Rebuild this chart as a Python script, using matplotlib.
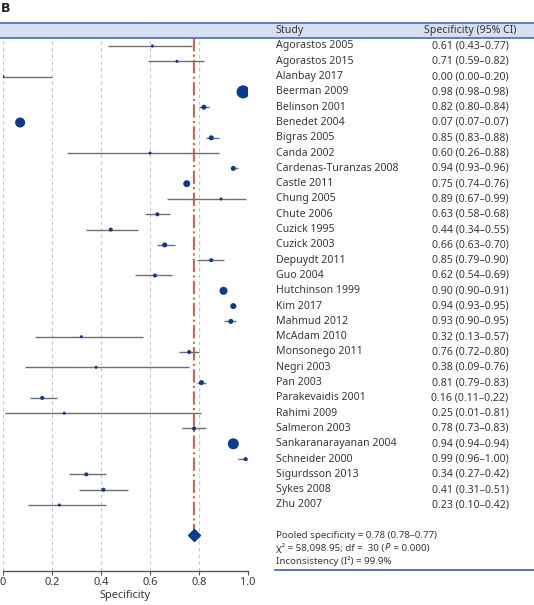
import matplotlib
matplotlib.use("Agg")
import matplotlib.pyplot as plt
import matplotlib.transforms as mtransforms
from matplotlib.patches import Rectangle
from matplotlib.lines import Line2D

studies = ["Agorastos 2005", "Agorastos 2015", "Alanbay 2017", "Beerman 2009", "Belinson 2001",
           "Benedet 2004", "Bigras 2005", "Canda 2002", "Cardenas-Turanzas 2008", "Castle 2011",
           "Chung 2005", "Chute 2006", "Cuzick 1995", "Cuzick 2003", "Depuydt 2011", "Guo 2004",
           "Hutchinson 1999", "Kim 2017", "Mahmud 2012", "McAdam 2010", "Monsonego 2011",
           "Negri 2003", "Pan 2003", "Parakevaidis 2001", "Rahimi 2009", "Salmeron 2003",
           "Sankaranarayanan 2004", "Schneider 2000", "Sigurdsson 2013", "Sykes 2008", "Zhu 2007"]
spec = [0.61, 0.71, 0.00, 0.98, 0.82, 0.07, 0.85, 0.60, 0.94, 0.75, 0.89, 0.63, 0.44, 0.66, 0.85,
        0.62, 0.90, 0.94, 0.93, 0.32, 0.76, 0.38, 0.81, 0.16, 0.25, 0.78, 0.94, 0.99, 0.34, 0.41, 0.23]
lower = [0.43, 0.59, 0.00, 0.98, 0.80, 0.07, 0.83, 0.26, 0.93, 0.74, 0.67, 0.58, 0.34, 0.63, 0.79,
         0.54, 0.90, 0.93, 0.90, 0.13, 0.72, 0.09, 0.79, 0.11, 0.01, 0.73, 0.94, 0.96, 0.27, 0.31, 0.10]
upper = [0.77, 0.82, 0.20, 0.98, 0.84, 0.07, 0.88, 0.88, 0.96, 0.76, 0.99, 0.68, 0.55, 0.70, 0.90,
         0.69, 0.91, 0.95, 0.95, 0.57, 0.80, 0.76, 0.83, 0.22, 0.81, 0.83, 0.94, 1.00, 0.42, 0.51, 0.42]
# relative study weights (drawn as marker area)
weights = [1.0, 1.0, 1.0, 18.8, 2.8, 11.1, 2.8, 1.0, 2.8, 5.4, 1.0, 1.8, 1.8, 2.8, 1.8, 1.8,
           7.1, 4.0, 2.8, 1.0, 1.8, 1.0, 2.8, 1.8, 1.0, 1.8, 13.4, 1.8, 1.8, 1.8, 1.0]
pooled = 0.78
pooled_ci = (0.78, 0.77)
chi2 = "58,098.95"
df = 30
p_value = "0.000"
i2 = "99.9%"
xticks = [0, 0.2, 0.4, 0.6, 0.8, 1.0]
xticklabels = ["0", "0.2", "0.4", "0.6", "0.8", "1.0"]

FONT = "Noto Sans"
W, H = 534, 605
fig = plt.figure(figsize=(W / 100, H / 100), dpi=100)

def fx(px):
    return px / W

def fy(py):
    return 1 - py / H

BLUE = "#0c3a8e"
GRAY = "#6f6f6f"
RED = "#e0604f"
TXT = "#383838"
FS = 7.6
FS_STAT = 7.0

# header band
fig.patches.append(Rectangle((0, fy(38)), 1, (38 - 23) / H, transform=fig.transFigure,
                             facecolor="#d6def1", edgecolor="none", zorder=0))
fig.lines.append(Line2D([0, 1], [fy(23), fy(23)], transform=fig.transFigure, color="#4a6bb0", lw=1.2))
fig.lines.append(Line2D([0, 1], [fy(38), fy(38)], transform=fig.transFigure, color="#4a6bb0", lw=1.2))

fig.text(fx(1), fy(8), "B", fontsize=9, fontweight="heavy", family="DejaVu Sans", va="center", ha="left", color="#222222")

# main forest axes
ax_top, ax_bot = 38, 571
ax = fig.add_axes([fx(3), fy(ax_bot), 245 / W, (ax_bot - ax_top) / H])
row0, step = 46, 15.3
n = len(studies)
ys = list(range(n))
ax.set_ylim((ax_bot - row0) / step, (ax_top - row0) / step)
ax.set_xlim(0, 1)
for t in xticks:
    ax.axvline(t, color="#c4c4c4", lw=0.8, ls=(0, (3, 3)), zorder=0)

ax.hlines(ys, lower, upper, color=GRAY, lw=1.0, zorder=2)
ax.scatter(spec, ys, s=[w * 4.7 for w in weights], color=BLUE, zorder=3, edgecolors="none")

pooled_y = (535 - row0) / step
ax.plot([pooled, pooled], [(ax_top - row0) / step, pooled_y], color=RED, lw=1.5, ls="-.", zorder=1)
ax.plot([pooled], [pooled_y], marker="D", markersize=6.5, color=BLUE, zorder=4)

for s in ["top", "right", "left"]:
    ax.spines[s].set_visible(False)
ax.spines["bottom"].set_color("#555555")
ax.spines["bottom"].set_linewidth(1.0)
ax.set_yticks([])
ax.set_xticks(xticks)
ax.set_xticklabels(xticklabels, fontsize=FS + 0.3, family=FONT, color=TXT)
ax.tick_params(axis="x", length=3, width=0.8, color="#555555", pad=1)
ax.set_xlabel("Specificity", fontsize=FS + 0.3, family=FONT, color=TXT, labelpad=2)
ax.patch.set_alpha(0)

# table text
trans = mtransforms.blended_transform_factory(fig.transFigure, ax.transData)
xs_name, xs_val = fx(276), fx(470)
fig.text(xs_name, fy(31), "Study", fontsize=FS, family=FONT, color=TXT, va="center", ha="left")
fig.text(xs_val, fy(31), "Specificity (95% CI)", fontsize=FS, family=FONT, color=TXT, va="center", ha="center")
for i in range(n):
    ax.text(xs_name, i, studies[i], transform=trans, fontsize=FS, family=FONT, color=TXT,
            va="center", ha="left", clip_on=False)
    ax.text(xs_val, i, f"{spec[i]:.2f} ({lower[i]:.2f}\u2013{upper[i]:.2f})", transform=trans,
            fontsize=FS, family=FONT, color=TXT, va="center", ha="center", clip_on=False)

# statistics block
fig.text(xs_name, fy(535), f"Pooled specificity = {pooled:.2f} ({pooled_ci[0]:.2f}\u2013{pooled_ci[1]:.2f})",
         fontsize=FS_STAT, family=FONT, color=TXT, va="center", ha="left")
renderer = fig.canvas.get_renderer()
parts = [(f"\u03c7\u00b2 = {chi2}; df =  {df} (", "normal"), ("P", "italic"), (f" = {p_value})", "normal")]
x_cur = 276
for txt, style in parts:
    t = fig.text(fx(x_cur), fy(548), txt, fontsize=FS_STAT, family=FONT, style=style,
                 color=TXT, va="center", ha="left")
    bb = t.get_window_extent(renderer=renderer)
    x_cur += bb.width + (1 if style == "italic" else 0)
fig.text(xs_name, fy(561), f"Inconsistency (I\u00b2) = {i2}",
         fontsize=FS_STAT, family=FONT, color=TXT, va="center", ha="left")
fig.lines.append(Line2D([fx(275), 1], [fy(570), fy(570)], transform=fig.transFigure, color="#3a5fa8", lw=1.2))

fig.savefig("out.png", dpi=100)
